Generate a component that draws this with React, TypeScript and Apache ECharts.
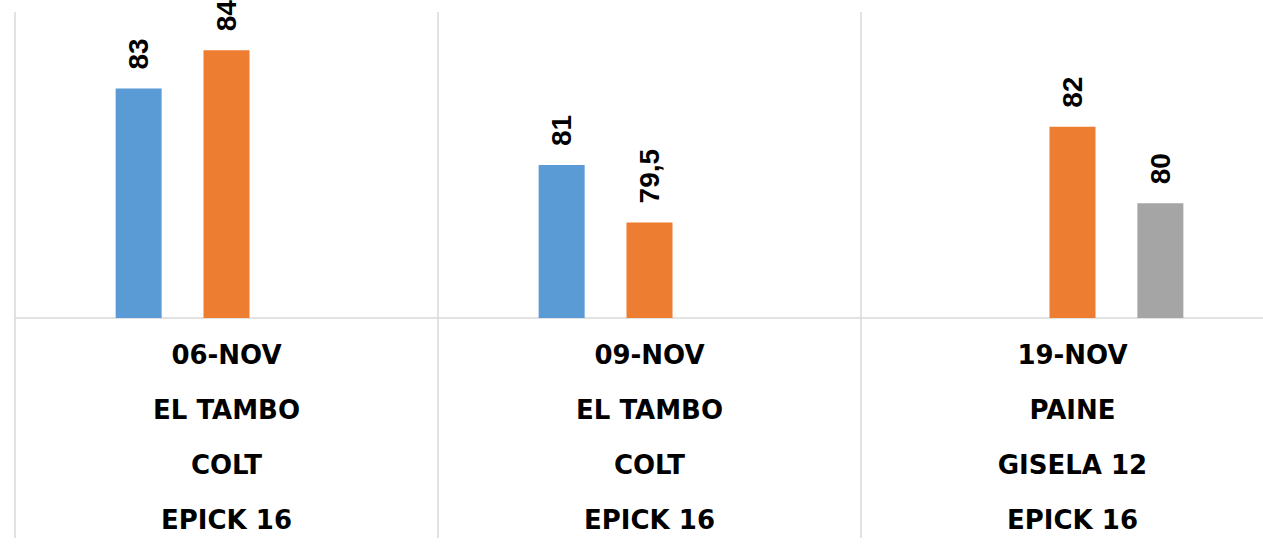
import React, { useEffect, useRef } from "react";
import * as echarts from "echarts";

const dates = ["06-NOV", "09-NOV", "19-NOV"];
const locations = ["EL TAMBO", "EL TAMBO", "PAINE"];
const rootstocks = ["COLT", "COLT", "GISELA 12"];
const products = ["EPICK 16", "EPICK 16", "EPICK 16"];

const serieBlue: (number | null)[] = [83, 81, null];
const serieOrange: (number | null)[] = [84, 79.5, 82];
const serieGray: (number | null)[] = [null, null, 80];

const categories = dates.map((d, i) => [d, locations[i], rootstocks[i], products[i]].join("\n"));

const fmt = (v: number) => String(v).replace(".", ",");

export default function App() {
  const ref = useRef<HTMLDivElement>(null);
  useEffect(() => {
    document.body.style.margin = "0";
    if (!ref.current) return;
    const chart = echarts.init(ref.current, undefined, { renderer: "svg" });
    const label = {
      show: true,
      position: "top" as const,
      rotate: 90,
      align: "left" as const,
      verticalAlign: "middle" as const,
      distance: 19,
      fontFamily: "'Liberation Sans Narrow', 'Liberation Sans', Arial, sans-serif",
      fontWeight: "bold" as const,
      fontSize: 28,
      color: "#000",
      formatter: (p: any) => fmt(p.value),
    };
    const mk = (name: string, data: (number | null)[], color: string) => ({
      name,
      type: "bar" as const,
      data,
      barWidth: 46,
      barGap: "91%",
      itemStyle: { color },
      label,
    });
    chart.setOption({
      animation: false,
      grid: { left: 15, right: 0, top: 12, bottom: 233, containLabel: false },
      xAxis: {
        type: "category",
        data: categories,
        boundaryGap: true,
        axisLine: { show: true, lineStyle: { color: "#D9D9D9", width: 1.5 } },
        axisTick: { show: true, length: 220, lineStyle: { color: "#D9D9D9", width: 1.5 } },
        splitLine: { show: true, lineStyle: { color: "#D9D9D9", width: 1.5 } },
        axisLabel: {
          margin: 9,
          lineHeight: 55,
          fontFamily: "'DejaVu Sans', sans-serif",
          fontWeight: "bold",
          fontSize: 26,
          color: "#000",
          interval: 0,
        },
      },
      yAxis: {
        type: "value",
        min: 77,
        max: 85,
        show: false,
        splitLine: { show: false },
      },
      series: [
        mk("Serie 1", serieBlue, "#5B9BD5"),
        mk("Serie 2", serieOrange, "#ED7D31"),
        mk("Serie 3", serieGray, "#A5A5A5"),
      ],
    });
    return () => chart.dispose();
  }, []);
  return (
    <div style={{ width: 1263, height: 551, overflow: "hidden" }}>
      <div ref={ref} style={{ width: 1284, height: 551 }} />
    </div>
  );
}
